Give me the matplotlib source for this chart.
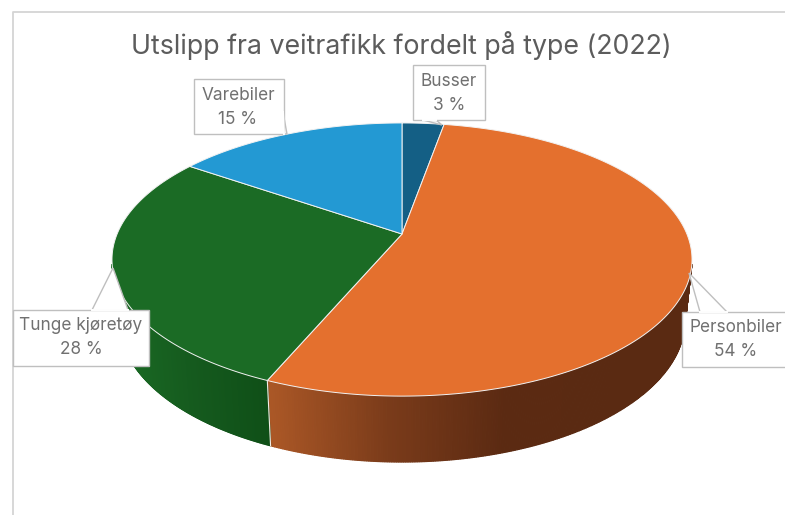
import numpy as np
import matplotlib
matplotlib.use("Agg")
import matplotlib.pyplot as plt
from matplotlib.colors import LinearSegmentedColormap
from matplotlib.patches import Rectangle, Polygon

title = "Utslipp fra veitrafikk fordelt på type (2022)"
categories = ["Busser", "Personbiler", "Tunge kjøretøy", "Varebiler"]
shares = [2.8, 53.6, 28.2, 15.4]

colors = ["#145F85", "#E4702E", "#1B6B25", "#2399D3"]
side_maps = {
    1: LinearSegmentedColormap.from_list("o", ["#AA5726", "#7A3B1A", "#5B2A12", "#5A2A12"]),
    2: LinearSegmentedColormap.from_list("g", ["#1A6A24", "#155A1E", "#0F4F17"]),
}
side_x = {1: (272, 620), 2: (118, 270)}
GREY = "#BFBFBF"
TXT = "#707070"
FONT = "Inter"

# perspective of the disc
K = 0.187
TOP = dict(cx=402, cy=234, a=284.9, b=131.8)
BOT = dict(cx=402, cy=293.5, a=278.0, b=137.0)


def project(t, g):
    u, v = np.sin(t), np.cos(t)
    w = 1 + K * v
    return g["cx"] + g["a"] * u / w, g["cy"] - g["b"] * v / w


fig = plt.figure(figsize=(7.85, 5.15), dpi=100, facecolor="white")
ax = fig.add_axes([0, 0, 1, 1])
ax.set_xlim(0, 785)
ax.set_ylim(515, 0)
ax.axis("off")

# chart frame
ax.plot([13, 13, 785], [515, 12, 12], color="#D4D4D4", lw=1.3, zorder=1)

ends = np.cumsum(shares) / np.sum(shares) * 2 * np.pi
starts = np.r_[0, ends[:-1]]

# side wall: only the part of the rim that faces the viewer
for i in side_maps:
    lo, hi = side_x[i]
    ts = np.linspace(max(starts[i], 0.57 * np.pi), min(ends[i], 1.43 * np.pi), 260)
    for t0, t1 in zip(ts[:-1], ts[1:]):
        x0, y0 = project(np.array([t0, t1]), TOP)
        x1, y1 = project(np.array([t0, t1]), BOT)
        xm = (x0.mean() + x1.mean()) / 2
        c = side_maps[i](np.clip((xm - lo) / (hi - lo), 0, 1))
        ax.fill([x0[0], x0[1], x1[1], x1[0]], [y0[0], y0[1], y1[1], y1[0]],
                color=c, lw=0.9, zorder=2)
jx, jy = project(np.array([ends[1]]), TOP)
bx, by = project(np.array([ends[1]]), BOT)
ax.plot([jx[0], bx[0]], [jy[0], by[0]], color="#F4EDE8", lw=0.8, zorder=3)

# top face
for i, c in enumerate(colors):
    ts = np.linspace(starts[i], ends[i], 240)
    xs, ys = project(ts, TOP)
    ax.fill(np.r_[TOP["cx"], xs], np.r_[TOP["cy"], ys], facecolor=c,
            edgecolor="#F2F2F2", lw=0.7, zorder=4, joinstyle="round")

# callouts: box (x0, y0, x1, y1), leader polygon, text centre
callouts = {
    "Busser": ((413, 65, 485, 120), [(423, 120), (442, 125), (436, 120)], (449, 82)),
    "Personbiler": ((682, 312, 790, 367), [(700, 312), (689, 273), (727, 312)], (736, 327)),
    "Tunge kjøretøy": ((13, 310, 149, 366), [(92, 310), (113, 268), (128, 310)], (81, 325)),
    "Varebiler": ((194, 79, 284, 134), [(283, 112), (287, 134), (284, 134)], (238, 96)),
}
for name, share in zip(categories, shares):
    (x0, y0, x1, y1), lead, (tx, ty) = callouts[name]
    ax.add_patch(Polygon(lead, closed=True, facecolor="white", edgecolor=GREY, lw=1, zorder=5))
    ax.add_patch(Rectangle((x0, y0), x1 - x0, y1 - y0, facecolor="white", edgecolor=GREY, lw=1, zorder=6))
    ax.plot([lead[0][0], lead[-1][0]], [lead[0][1], lead[-1][1]], color="white", lw=1.4, zorder=7)
    ax.text(tx, ty, name, ha="center", va="center", fontsize=12.4, color=TXT, family=FONT, zorder=8)
    ax.text(tx, ty + 24, f"{share:.0f} %", ha="center", va="center", fontsize=12.4, color=TXT, family=FONT, zorder=8)

ax.text(401, 46, title, ha="center", va="center", fontsize=19.25, color="#5C5C5C", family=FONT, zorder=8)

fig.savefig("out.png", dpi=100, facecolor="white")
